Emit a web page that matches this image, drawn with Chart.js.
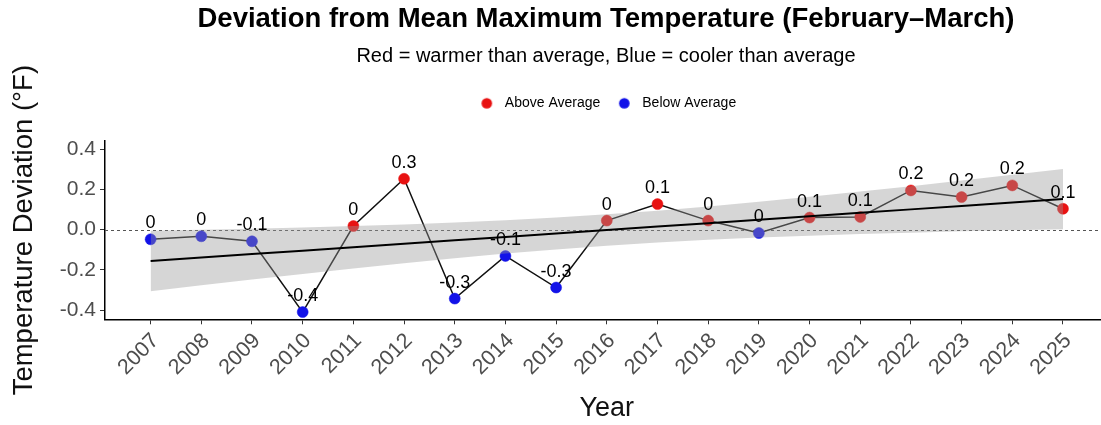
<!DOCTYPE html>
<html>
<head>
<meta charset="utf-8">
<title>Deviation from Mean Maximum Temperature</title>
<script src="https://cdn.jsdelivr.net/npm/chart.js@4.4.1/dist/chart.umd.min.js"></script>
<style>
  html, body { margin: 0; padding: 0; overflow: hidden; background: #fff; }
  #wrap { width: 1101px; height: 425px; overflow: hidden; }
  canvas { display: block; }
</style>
</head>
<body>
<div id="wrap"><canvas id="chart" width="1212" height="425"></canvas></div>
<script>
// ---- data ----
const years = [2007, 2008, 2009, 2010, 2011, 2012, 2013, 2014, 2015, 2016,
               2017, 2018, 2019, 2020, 2021, 2022, 2023, 2024, 2025];
// Feb–Mar mean maximum temperature minus the long-term mean (°F)
const deviations = [-0.048, -0.033, -0.058, -0.41, 0.018, 0.253, -0.343, -0.131, -0.288, 0.045,
                    0.127, 0.045, -0.017, 0.06, 0.063, 0.195, 0.162, 0.22, 0.104];
const yTickValues = [-0.4, -0.2, 0, 0.2, 0.4];
const legendNames = ['Above Average', 'Below Average'];

const WARM = '#E81212';
const COOL = '#1212E8';

// ---- linear trend with 95% confidence band ----
function linearFit(xs, ys) {
  const n = xs.length;
  const xbar = xs.reduce((a, b) => a + b, 0) / n;
  const ybar = ys.reduce((a, b) => a + b, 0) / n;
  let sxx = 0, sxy = 0;
  for (let i = 0; i < n; i++) {
    sxx += (xs[i] - xbar) ** 2;
    sxy += (xs[i] - xbar) * (ys[i] - ybar);
  }
  const slope = sxy / sxx;
  const intercept = ybar - slope * xbar;
  let sse = 0;
  for (let i = 0; i < n; i++) sse += (ys[i] - (intercept + slope * xs[i])) ** 2;
  const s = Math.sqrt(sse / (n - 2));
  return { n, xbar, sxx, slope, intercept, s };
}
const T_CRIT = 2.1098; // two-sided 95% t critical value, n - 2 = 17 degrees of freedom
const fit = linearFit(years, deviations);
const trendAt = x => fit.intercept + fit.slope * x;
const halfWidthAt = x => T_CRIT * fit.s * Math.sqrt(1 / fit.n + (x - fit.xbar) ** 2 / fit.sxx);

const seriesPoints = years.map((x, i) => ({ x, y: deviations[i] }));
const trendPoints = years.map(x => ({ x, y: trendAt(x) }));
const upperPoints = years.map(x => ({ x, y: trendAt(x) + halfWidthAt(x) }));
const lowerPoints = years.map(x => ({ x, y: trendAt(x) - halfWidthAt(x) }));
const pointColors = deviations.map(v => (v > 0 ? WARM : COOL));

const fmtLabel = v => {
  const r = Math.round(v * 10) / 10;
  return String(r === 0 ? 0 : r);
};

const xSpan = years[years.length - 1] - years[0];
const xPad = 0.05 * xSpan;

Chart.defaults.font.family = "'Liberation Sans', Arial, Helvetica, sans-serif";

// round legend key drawn into a small canvas
function dotKey(color, r) {
  const c = document.createElement('canvas');
  c.width = c.height = Math.ceil(2 * r + 2);
  const g = c.getContext('2d');
  g.fillStyle = color;
  g.beginPath();
  g.arc(c.width / 2, c.height / 2, r, 0, Math.PI * 2);
  g.fill();
  return c;
}
const legendKeys = [dotKey(WARM, 5.3), dotKey(COOL, 5.3)];

// dashed reference line at zero
const zeroLine = {
  id: 'zeroLine',
  beforeDatasetsDraw(chart) {
    const { ctx, chartArea: { left, right }, scales: { y } } = chart;
    const py = Math.round(y.getPixelForValue(0)) + 0.5;
    ctx.save();
    ctx.setLineDash([3, 3]);
    ctx.strokeStyle = '#555';
    ctx.lineWidth = 1;
    ctx.beginPath();
    ctx.moveTo(left, py);
    ctx.lineTo(right, py);
    ctx.stroke();
    ctx.restore();
  }
};

// rounded value printed above each point
const valueLabels = {
  id: 'valueLabels',
  afterDatasetsDraw(chart) {
    const { ctx } = chart;
    const meta = chart.getDatasetMeta(0);
    ctx.save();
    ctx.font = "18px 'Liberation Sans', Arial, sans-serif";
    ctx.fillStyle = '#000';
    ctx.textAlign = 'center';
    ctx.textBaseline = 'middle';
    meta.data.forEach((pt, i) => {
      ctx.fillText(fmtLabel(deviations[i]), pt.x, pt.y - 16);
    });
    ctx.restore();
  }
};

// empty margin boxes around the plotting panel
const spacer = (position, size) => ({
  type: 'linear',
  position,
  display: true,
  grid: { display: false },
  border: { display: false },
  ticks: { display: false },
  afterFit: s => {
    if (position === 'top' || position === 'bottom') s.height = size; else s.width = size;
  }
});

new Chart(document.getElementById('chart'), {
  type: 'line',
  data: {
    datasets: [
      {
        label: 'Deviation',
        data: seriesPoints,
        borderColor: '#111',
        borderWidth: 1.5,
        pointRadius: 5.5,
        pointBackgroundColor: pointColors,
        pointBorderColor: pointColors,
        pointBorderWidth: 0.5,
        fill: false,
        order: 3
      },
      {
        label: 'CI upper',
        data: upperPoints,
        borderWidth: 0,
        pointRadius: 0,
        backgroundColor: 'rgba(153,153,153,0.4)',
        fill: '+1',
        order: 2
      },
      {
        label: 'CI lower',
        data: lowerPoints,
        borderWidth: 0,
        pointRadius: 0,
        fill: false,
        order: 2
      },
      {
        label: 'Trend',
        data: trendPoints,
        borderColor: '#000',
        borderWidth: 2,
        pointRadius: 0,
        fill: false,
        order: 1
      }
    ]
  },
  options: {
    responsive: false,
    animation: false,
    layout: { padding: 0 },
    plugins: {
      title: {
        display: true,
        text: 'Deviation from Mean Maximum Temperature (February–March)',
        font: { size: 27.5, weight: 'bold' },
        color: '#000',
        padding: { top: 2.7, bottom: 0 }
      },
      subtitle: {
        display: true,
        text: 'Red = warmer than average, Blue = cooler than average',
        font: { size: 20 },
        color: '#000',
        padding: { top: 8.3, bottom: 15.3 }
      },
      legend: {
        display: true,
        position: 'top',
        onClick: null,
        labels: {
          usePointStyle: true,
          pointStyleWidth: 22,
          boxHeight: 12,
          font: { size: 14 },
          color: '#222',
          padding: 13,
          generateLabels: () => legendNames.map((text, i) => ({
            text,
            fillStyle: i === 0 ? WARM : COOL,
            strokeStyle: i === 0 ? WARM : COOL,
            lineWidth: 0,
            pointStyle: legendKeys[i],
            hidden: false,
            datasetIndex: i
          }))
        }
      },
      tooltip: { enabled: false }
    },
    scales: {
      x: {
        type: 'linear',
        position: 'bottom',
        min: years[0] - xPad,
        max: years[years.length - 1] + xPad,
        afterBuildTicks: s => { s.ticks = years.map(v => ({ value: v })); },
        afterFit: s => { s.height = 105.7; },
        ticks: {
          autoSkip: false,
          maxRotation: 45,
          minRotation: 45,
          font: { size: 21.5 },
          color: '#4d4d4d',
          padding: 4,
          labelOffset: 5,
          callback: v => String(v)
        },
        grid: { drawOnChartArea: false, drawTicks: true, tickLength: 5, color: '#333' },
        border: { display: true, color: '#000', width: 1.5 },
        title: {
          display: true,
          text: 'Year',
          font: { size: 27 },
          color: '#111',
          padding: { top: 0, bottom: 0 }
        }
      },
      y: {
        type: 'linear',
        position: 'left',
        min: -0.446,
        max: 0.441,
        afterBuildTicks: s => { s.ticks = yTickValues.map(v => ({ value: v })); },
        afterFit: s => { s.width = 105; },
        ticks: {
          font: { size: 21 },
          color: '#4d4d4d',
          padding: 4,
          callback: v => v.toFixed(1)
        },
        grid: { drawOnChartArea: false, drawTicks: true, tickLength: 5, color: '#333' },
        border: { display: true, color: '#000', width: 1.5 },
        title: {
          display: true,
          text: 'Temperature Deviation (°F)',
          font: { size: 27.5 },
          color: '#111',
          padding: { top: 8, bottom: 0 }
        }
      },
      gapTop: spacer('top', 20.7),
      gapRight: spacer('right', 103.4)
    }
  },
  plugins: [zeroLine, valueLabels]
});
</script>
</body>
</html>
